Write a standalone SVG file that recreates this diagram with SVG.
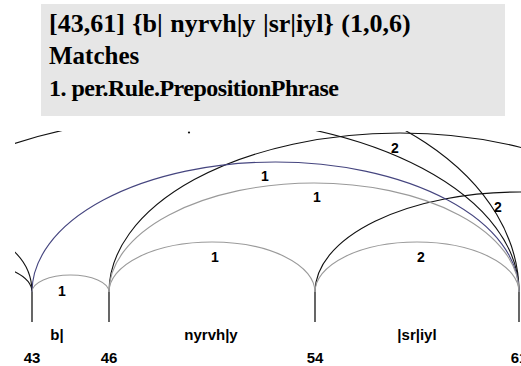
<svg xmlns="http://www.w3.org/2000/svg" width="521" height="366" viewBox="0 0 521 366">
<style>
.hdr{font-family:"Liberation Serif","Times New Roman",serif;font-weight:bold;font-size:25px;fill:#000}
.arc{fill:none;stroke-width:1.1}
.g{stroke:#9a9a9a}
.b{stroke:#45457f}
.k{stroke:#111}
.lbl{font-family:"Liberation Sans",Arial,sans-serif;font-weight:bold;font-size:14px;fill:#000;text-anchor:middle}
.tok{font-family:"Liberation Sans",Arial,sans-serif;font-weight:bold;font-size:15px;fill:#000;text-anchor:middle}
.tick{stroke:#000;stroke-width:1.2}
</style>
<defs>
<clipPath id="cv"><rect x="15" y="131" width="506" height="235"/></clipPath>
</defs>
<rect width="521" height="366" fill="#fff"/>
<g id="header">
<rect x="41" y="4" width="464" height="112" fill="#e6e6e6"/>
<text class="hdr" x="49" y="32" style="font-size:26px" word-spacing="1">[43,61] {b| nyrvh|y |sr|iyl} (1,0,6)</text>
<text class="hdr" x="49" y="64">Matches</text>
<text class="hdr" x="49" y="96" style="font-size:24px" letter-spacing="-0.5">1. per.Rule.PrepositionPhrase</text>
</g>
<g id="connectors" clip-path="url(#cv)">
<path class="arc k" d="M-88 292 A60 57 0 0 1 32 292"/>
<path class="arc k" d="M-88 292 A60 29 0 0 1 32 292"/>
<path class="arc k" d="M-141 292 A330 175 0 0 1 519 292"/>
<path class="arc k" d="M-119 292 A319 211 0 0 1 519 292"/>
<path class="arc k" d="M109 292 A291 159 0 0 1 691 292"/>
<path class="arc k" d="M315 292 A205 100 0 0 1 725 292"/>
<path class="arc b" d="M32 292 A243.5 130 0 0 1 519 292"/>
<path class="arc g" d="M109 292 A205 109 0 0 1 519 292"/>
<path class="arc g" d="M32 292 A38.5 17 0 0 1 109 292"/>
<path class="arc g" d="M109 292 A103 50 0 0 1 315 292"/>
<path class="arc g" d="M315 292 A102 50 0 0 1 519 292"/>
<circle cx="189" cy="132.5" r="1.1" fill="#111"/>
<text class="lbl" x="62" y="296">1</text>
<text class="lbl" x="215" y="262">1</text>
<text class="lbl" x="421" y="262">2</text>
<text class="lbl" x="317" y="202">1</text>
<text class="lbl" x="265" y="181">1</text>
<text class="lbl" x="395" y="153">2</text>
<text class="lbl" x="498" y="212">2</text>
</g>
<g id="n43">
<line class="tick" x1="32" y1="292" x2="32" y2="322"/>
<text class="tok" x="32" y="363">43</text>
<text class="tok" x="57" y="340">b|</text>
</g>
<g id="n46">
<line class="tick" x1="109" y1="292" x2="109" y2="322"/>
<text class="tok" x="109" y="363">46</text>
<text class="tok" x="211" y="340">nyrvh|y</text>
</g>
<g id="n54">
<line class="tick" x1="315" y1="292" x2="315" y2="322"/>
<text class="tok" x="315" y="363">54</text>
<text class="tok" x="417" y="340">|sr|iyl</text>
</g>
<g id="n61">
<line class="tick" x1="519" y1="292" x2="519" y2="322"/>
<text class="tok" x="519" y="363">61</text>
</g>
</svg>
